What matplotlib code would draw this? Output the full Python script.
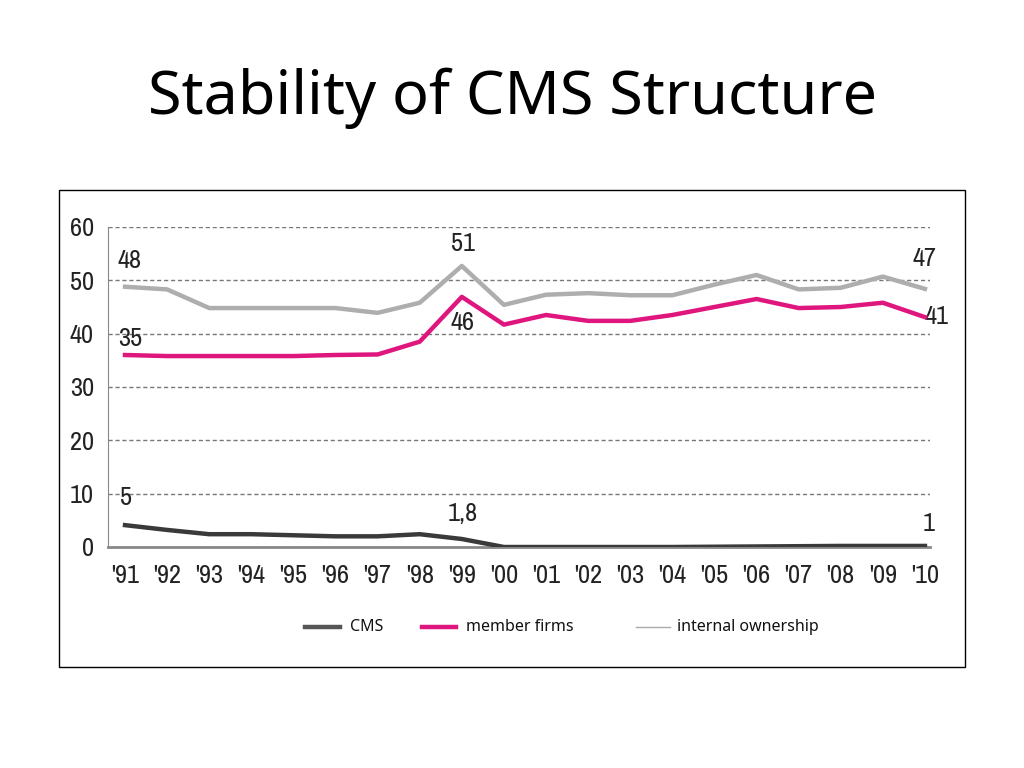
import matplotlib
matplotlib.use("Agg")
import matplotlib.pyplot as plt
from matplotlib.lines import Line2D
from matplotlib.patches import Rectangle
from matplotlib import font_manager

years = ["'91", "'92", "'93", "'94", "'95", "'96", "'97", "'98", "'99", "'00",
         "'01", "'02", "'03", "'04", "'05", "'06", "'07", "'08", "'09", "'10"]
internal_ownership = [48.8, 48.3, 44.8, 44.8, 44.8, 44.8, 43.9, 45.8, 52.7, 45.4,
                      47.3, 47.6, 47.2, 47.2, 49.2, 51.0, 48.3, 48.6, 50.7, 48.4]
member_firms = [36.0, 35.8, 35.8, 35.8, 35.8, 36.0, 36.1, 38.5, 46.9, 41.7,
                43.5, 42.4, 42.4, 43.5, 45.0, 46.5, 44.8, 45.0, 45.8, 43.1]
cms = [4.1, 3.2, 2.4, 2.4, 2.2, 2.0, 2.0, 2.4, 1.5, 0.0,
       0.0, 0.0, 0.0, 0.0, 0.05, 0.1, 0.15, 0.2, 0.2, 0.2]
yticks = [0, 10, 20, 30, 40, 50, 60]
labels_own = [(0, "48"), (8, "51"), (19, "47")]
labels_mem = [(0, "35"), (8, "46"), (19, "41")]
labels_cms = [(0, "5"), (8, "1,8"), (19, "1")]

title = "Stability of CMS Structure"
legend_names = ["CMS", "member firms", "internal ownership"]

names = sorted({f.name for f in font_manager.fontManager.ttflist})
cond = [n for n in names if "Narrow" in n or "Condensed" in n]
narrow = cond[0] if cond else "Liberation Sans"
tick_fs = 19 if cond else 14

fig = plt.figure(figsize=(10.24, 7.68), dpi=100)
fig.patch.set_facecolor("white")

fig.patches.append(Rectangle((59/1024, 1-667/768), (965-59)/1024, (667-190)/768,
                             transform=fig.transFigure, fill=False,
                             edgecolor="black", linewidth=1.0))

fig.text(0.5, 1-98/768, title, ha="center", va="center",
         fontsize=44, family=["Noto Sans", "DejaVu Sans"], color="black")

ax = fig.add_axes([108/1024, 1-547/768, (930-108)/1024, 320/768])
x = list(range(len(years)))
own_c = "#AEAEAE"
mem_c = "#E0167F"
cms_c = "#3A3A3A"
ax.plot(x, internal_ownership, color=own_c, lw=3.2, solid_joinstyle="round", zorder=3)
ax.plot(x, member_firms, color=mem_c, lw=3.2, solid_joinstyle="round", zorder=4)
ax.plot(x, cms, color=cms_c, lw=3.2, solid_joinstyle="round", zorder=5)

ax.set_xlim(-0.404, 19.12)
ax.set_ylim(0, 60)
ax.set_yticks(yticks)
ax.set_yticklabels([str(v) for v in yticks], family=narrow, fontsize=tick_fs, color="#222222")
ax.set_xticks(x)
ax.set_xticklabels(years, family=narrow, fontsize=tick_fs, color="#222222")
ax.tick_params(axis="both", length=0)
ax.tick_params(axis="y", pad=10)
ax.tick_params(axis="x", pad=12)
for s in ["top", "right"]:
    ax.spines[s].set_visible(False)
ax.spines["left"].set_color("#888888")
ax.spines["bottom"].set_color("#888888")
ax.spines["bottom"].set_linewidth(2)
for v in yticks[1:]:
    ax.axhline(v, color="#777777", lw=1.0, ls=(0, (3, 2)), zorder=1)

def lab(series, items, offsets):
    for (i, t), (dx, dy) in zip(items, offsets):
        ax.annotate(t, xy=(x[i], series[i]), xytext=(dx, dy), textcoords="offset pixels",
                    ha="center", va="center", family=narrow, fontsize=tick_fs, color="#222222")

lab(internal_ownership, labels_own, [(5, 26), (1, 22), (0, 30)])
lab(member_firms, labels_mem, [(5, 17), (1, -26), (12, 1)])
lab(cms, labels_cms, [(1, 28), (1, 26), (4, 22)])

leg_y = 1 - 627/768
leg_items = [((305, 340), 350, "#555555", 3.2),
             ((422, 456), 466, mem_c, 3.2),
             ((636, 670), 677, "#AAAAAA", 1.0)]
for ((x0, x1), tx, col, lw), name in zip(leg_items, legend_names):
    fig.add_artist(Line2D([x0/1024, x1/1024], [leg_y, leg_y], transform=fig.transFigure,
                          color=col, lw=lw))
    fig.text(tx/1024, leg_y, name, ha="left", va="center", fontsize=11.5,
             family=["Noto Sans", "DejaVu Sans"], color="#111111")

fig.savefig("out.png", dpi=100, facecolor="white")
